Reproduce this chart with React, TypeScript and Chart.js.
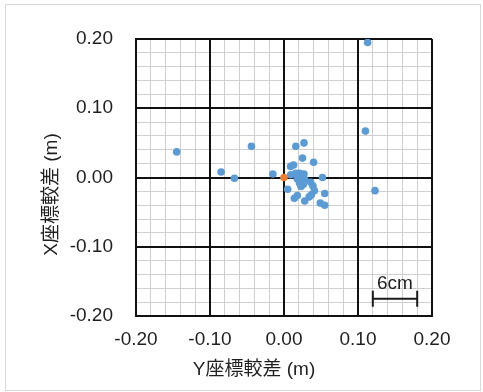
import React, { useEffect, useRef } from 'react';
import { Chart, registerables } from 'chart.js';

Chart.register(...registerables);

// ---- axis definition ----
const axisMin = -0.2;
const axisMax = 0.2;
const majorStep = 0.1;
const minorStep = 0.02;
const xTickLabels = ['-0.20', '-0.10', '0.00', '0.10', '0.20'];
const yTickLabels = ['-0.20', '-0.10', '0.00', '0.10', '0.20'];
const xTitle = 'Y座標較差 (m)';
const yTitle = 'X座標較差 (m)';

// ---- data ----
const blueX = [
  0.113, 0.110, 0.123, -0.145, -0.044, -0.085, -0.067, -0.015, 0.016, 0.027,
  0.025, 0.040, 0.009, 0.013, 0.052, 0.009, 0.016, 0.021, 0.027, 0.018,
  0.023, 0.028, 0.021, 0.026, 0.023, 0.005, 0.036, 0.039, 0.041, 0.055,
  0.014, 0.018, 0.028, 0.034, 0.037, 0.049, 0.055,
];
const blueY = [
  0.195, 0.067, -0.019, 0.037, 0.045, 0.008, -0.001, 0.005, 0.045, 0.050,
  0.028, 0.022, 0.016, 0.018, 0.000, 0.004, 0.006, 0.006, 0.005, -0.002,
  -0.001, -0.003, -0.008, -0.010, -0.013, -0.017, -0.007, -0.012, -0.019, -0.023,
  -0.030, -0.026, -0.034, -0.028, -0.025, -0.037, -0.040,
];
const originX = [0];
const originY = [0];

// ---- scale bar annotation ----
const scaleBarStart = 0.12;
const scaleBarLength = 0.06;
const scaleBarLevel = -0.175;
const scaleBarLabel = '6cm';

const FONT_FAMILY = '"Liberation Sans", "Noto Sans CJK JP", Arial, sans-serif';
const FONT_SIZE = 19;
const TEXT_COLOR = '#1f1f1f';

const decorPlugin = {
  id: 'decor',
  beforeDraw(chart: any) {
    const ctx = chart.ctx;
    ctx.save();
    ctx.fillStyle = '#ffffff';
    ctx.fillRect(0, 0, chart.width, chart.height);
    ctx.strokeStyle = '#d9d9d9';
    ctx.lineWidth = 1;
    ctx.strokeRect(5.5, 4.5, 475, 386);
    ctx.restore();
  },
  afterDatasetsDraw(chart: any) {
    const ctx = chart.ctx;
    const xs = chart.scales.x;
    const ys = chart.scales.y;
    const x1 = xs.getPixelForValue(scaleBarStart);
    const x2 = xs.getPixelForValue(scaleBarStart + scaleBarLength);
    const py = ys.getPixelForValue(scaleBarLevel);
    ctx.save();
    ctx.strokeStyle = '#1a1a1a';
    ctx.lineWidth = 2;
    ctx.beginPath();
    ctx.moveTo(x1, py);
    ctx.lineTo(x2, py);
    ctx.moveTo(x1, py - 8);
    ctx.lineTo(x1, py + 8);
    ctx.moveTo(x2, py - 8);
    ctx.lineTo(x2, py + 8);
    ctx.stroke();
    ctx.fillStyle = TEXT_COLOR;
    ctx.font = `${FONT_SIZE}px ${FONT_FAMILY}`;
    ctx.textAlign = 'center';
    ctx.textBaseline = 'middle';
    ctx.fillText(scaleBarLabel, (x1 + x2) / 2, py - 15);
    ctx.restore();
  },
  afterDraw(chart: any) {
    const ctx = chart.ctx;
    const ca = chart.chartArea;
    ctx.save();
    ctx.fillStyle = TEXT_COLOR;
    ctx.font = `${FONT_SIZE}px ${FONT_FAMILY}`;
    ctx.textAlign = 'center';
    ctx.textBaseline = 'middle';
    ctx.fillText(xTitle, (ca.left + ca.right) / 2 - 30, ca.bottom + 54);
    ctx.translate(ca.left - 84, (ca.top + ca.bottom) / 2 + 17);
    ctx.rotate(-Math.PI / 2);
    ctx.fillText(yTitle, 0, 0);
    ctx.restore();
  },
};

export default function App() {
  const canvasRef = useRef<HTMLCanvasElement | null>(null);

  useEffect(() => {
    const canvas = canvasRef.current;
    if (!canvas) return;

    const minorAxis = (position: 'bottom' | 'left') => ({
      type: 'linear' as const,
      position,
      min: axisMin,
      max: axisMax,
      ticks: { display: false, stepSize: minorStep },
      grid: { color: '#cfcfcf', lineWidth: 1, drawTicks: false, z: -2 },
      border: { display: false },
      afterFit: (s: any) => {
        if (position === 'bottom') s.height = 0;
        else s.width = 0;
      },
    });

    const chart = new Chart(canvas, {
      type: 'scatter',
      data: {
        datasets: [
          {
            label: 'origin',
            data: originX.map((x, i) => ({ x, y: originY[i] })),
            backgroundColor: '#ED7D31',
            borderWidth: 0,
            pointRadius: 3.8,
            order: 0,
          },
          {
            label: 'diff',
            data: blueX.map((x, i) => ({ x, y: blueY[i] })),
            backgroundColor: '#5B9BD5',
            borderWidth: 0,
            pointRadius: 3.8,
            order: 1,
          },
        ],
      },
      options: {
        animation: false,
        responsive: false,
        events: [],
        layout: { padding: { left: 0, top: 39, right: 51, bottom: 0 } },
        plugins: {
          legend: { display: false },
          tooltip: { enabled: false },
        },
        scales: {
          xMinor: minorAxis('bottom'),
          yMinor: minorAxis('left'),
          x: {
            type: 'linear',
            position: 'bottom',
            min: axisMin,
            max: axisMax,
            ticks: {
              stepSize: majorStep,
              padding: 12,
              color: TEXT_COLOR,
              font: { family: FONT_FAMILY, size: FONT_SIZE },
              maxRotation: 0,
              autoSkip: false,
              callback: (_v: any, i: number) => xTickLabels[i],
            },
            grid: { color: '#111111', lineWidth: 2, drawTicks: false, z: -1 },
            border: { display: true, color: '#111111', width: 2 },
            afterFit: (s: any) => {
              s.height = 76;
            },
          },
          y: {
            type: 'linear',
            position: 'left',
            min: axisMin,
            max: axisMax,
            ticks: {
              stepSize: majorStep,
              padding: 23,
              color: TEXT_COLOR,
              font: { family: FONT_FAMILY, size: FONT_SIZE },
              autoSkip: false,
              callback: (_v: any, i: number) => yTickLabels[i],
            },
            grid: { color: '#111111', lineWidth: 2, drawTicks: false, z: -1 },
            border: { display: true, color: '#111111', width: 2 },
            afterFit: (s: any) => {
              s.width = 136;
            },
          },
        },
      } as any,
      plugins: [decorPlugin],
    });

    return () => chart.destroy();
  }, []);

  return (
    <div style={{ position: 'absolute', left: 0, top: 0, width: 483, height: 392 }}>
      <canvas ref={canvasRef} width={483} height={392} style={{ display: 'block' }} />
    </div>
  );
}
